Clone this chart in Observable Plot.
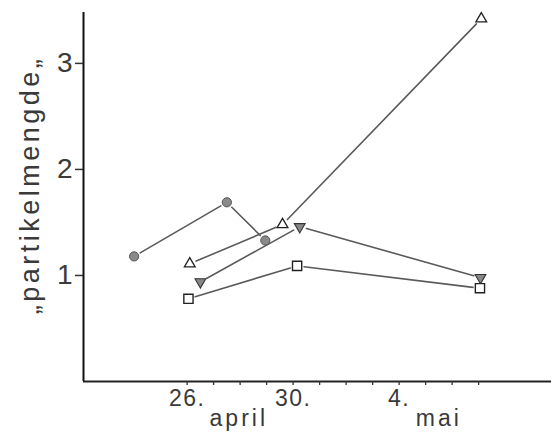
<!DOCTYPE html>
<html>
<head>
<meta charset="utf-8">
<script src="https://cdn.jsdelivr.net/npm/d3@7"></script>
<script src="https://cdn.jsdelivr.net/npm/@observablehq/plot@0.6"></script>
<style>
  html, body { margin: 0; padding: 0; background: #fff; }
  svg { display: block; }
  .ylab text { letter-spacing: 3.5px; }
  .mon text { letter-spacing: 3px; }
  .xlab text { letter-spacing: 1.5px; }
</style>
</head>
<body>
<div id="chart"></div>
<script>
// Day positions: day-of-April (May n => 30 + n)
const circleDays   = [24.0, 27.5, 28.95];
const circleValues = [1.18, 1.69, 1.33];

const triUpDays    = [26.1, 29.6, 37.1];
const triUpValues  = [1.11, 1.48, 3.42];

const triDownDays   = [26.5, 30.25, 37.07];
const triDownValues = [0.94, 1.46, 0.98];

const squareDays   = [26.05, 30.15, 37.05];
const squareValues = [0.78, 1.09, 0.88];

const xTickDays   = [26, 27, 28, 29, 30, 31, 32, 33, 34, 35, 36, 37];
const xLabelDays  = [26, 30, 34];
const xLabelTexts = ["26.", "30.", "4."];
const monthDays   = [27.95, 35.5];
const monthTexts  = ["april", "mai"];
const yTicks      = [1, 2, 3];
const yLabel      = "„partikelmengde„";

const toPts = (xs, ys) => xs.map((x, i) => ({x, y: ys[i]}));
const toSegs = (pts) => pts.slice(1).map((p, i) => ({x1: pts[i].x, y1: pts[i].y, x2: p.x, y2: p.y}));

const circles = toPts(circleDays, circleValues);
const triUps = toPts(triUpDays, triUpValues);
const triDowns = toPts(triDownDays, triDownValues);
const squares = toPts(squareDays, squareValues);

const font = "'Liberation Sans Narrow', 'Liberation Sans', Arial, sans-serif";
const xMin = 22.09, xMax = 39.75;

const segStyle = {x1: "x1", y1: "y1", x2: "x2", y2: "y2", stroke: "#5a5a5a", strokeWidth: 1.6, headLength: 0, inset: 7, bend: 0};

const chart = Plot.plot({
  width: 551,
  height: 439,
  marginLeft: 83,
  marginRight: 0,
  marginTop: 12,
  marginBottom: 58,
  style: {fontFamily: font, background: "#fff"},
  x: {domain: [xMin, xMax], axis: null},
  y: {domain: [0, 3.48], axis: null},
  marks: [
    Plot.ruleY([0], {x1: xMin, x2: xMax, stroke: "#222", strokeWidth: 2}),
    Plot.ruleX([xMin], {y1: 0, y2: 3.48, stroke: "#111", strokeWidth: 2}),
    // y ticks & labels
    Plot.axisY({ticks: yTicks, tickSize: 8, tickPadding: 3, tickFormat: d => String(d), fontSize: 28, stroke: "#333", fill: "#3a3a3a", label: null, strokeWidth: 1.5}),
    // x minor ticks
    Plot.axisX({ticks: xTickDays, tickSize: 4, tickFormat: () => "", label: null, stroke: "#333", strokeWidth: 1.3}),
    // x labels
    Plot.text(xLabelDays, {x: d => d, text: (d, i) => xLabelTexts[i], frameAnchor: "bottom", dy: 24, fontSize: 23, fill: "#3a3a3a", className: "xlab"}),
    Plot.text(monthDays, {x: d => d, text: (d, i) => monthTexts[i], frameAnchor: "bottom", dy: 44, fontSize: 23, fill: "#3a3a3a", className: "mon"}),
    // y label
    Plot.text([yLabel], {text: d => d, frameAnchor: "left", textAnchor: "middle", dx: -53, dy: -12, rotate: -90, fontSize: 27, fill: "#3a3a3a", className: "ylab"}),
    // connecting segments
    Plot.arrow(toSegs(circles), segStyle),
    Plot.arrow(toSegs(triUps), segStyle),
    Plot.arrow(toSegs(triDowns), segStyle),
    Plot.arrow(toSegs(squares), segStyle),
    // markers
    Plot.dot(circles, {x: "x", y: "y", symbol: "circle", r: 4.6, fill: "#8a8a8a", stroke: "#555", strokeWidth: 1}),
    Plot.dot(triUps, {x: "x", y: "y", symbol: "triangle", r: 4.0, fill: "#fff", stroke: "#222", strokeWidth: 1.3}),
    Plot.dot(triDowns, {x: "x", y: "y", symbol: "triangle", rotate: 180, r: 4.0, fill: "#888", stroke: "#333", strokeWidth: 1.1}),
    Plot.dot(squares, {x: "x", y: "y", symbol: "square", r: 5.2, fill: "#fff", stroke: "#222", strokeWidth: 1.4})
  ]
});
document.getElementById("chart").appendChild(chart);
</script>
</body>
</html>
